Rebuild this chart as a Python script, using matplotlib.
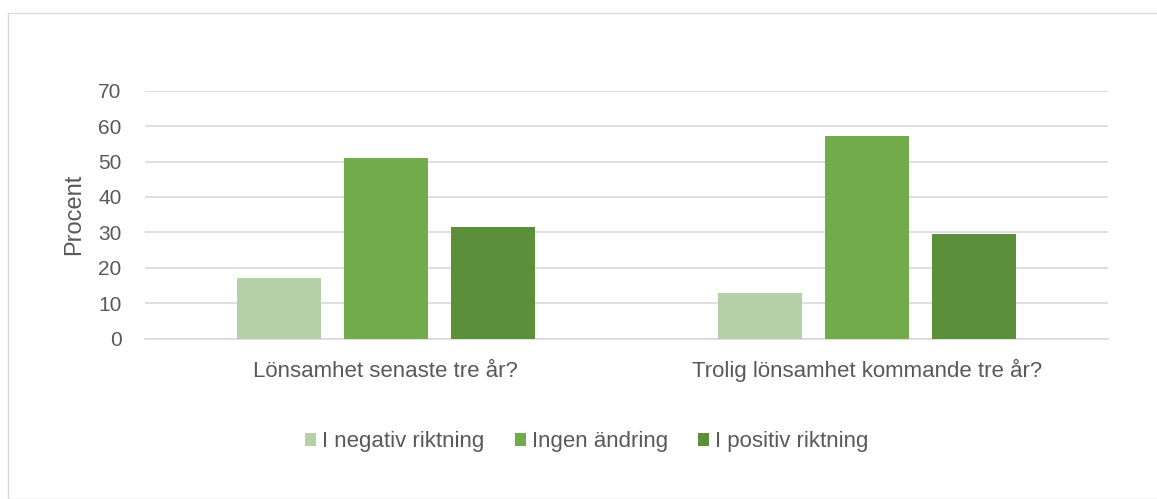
import matplotlib
matplotlib.use("Agg")
import matplotlib.pyplot as plt
import numpy as np
from matplotlib.patches import Rectangle
from matplotlib.transforms import blended_transform_factory

categories = ["Lönsamhet senaste tre år?", "Trolig lönsamhet kommande tre år?"]
series_names = ["I negativ riktning", "Ingen ändring", "I positiv riktning"]
negativ = [17.1, 13.0]
ingen = [50.9, 57.2]
positiv = [31.4, 29.5]
colors = ["#b5cfa7", "#72ac4a", "#5b8f3a"]
yticks = [0, 10, 20, 30, 40, 50, 60, 70]

plt.rcParams['font.family'] = ['Liberation Sans', 'DejaVu Sans']
txt = "#595959"

W, H = 1157, 499
fig = plt.figure(figsize=(W/100, H/100), dpi=100)
fig.patches.append(Rectangle((8/W, 0), 1.2, (H-13)/H, transform=fig.transFigure,
                             fill=False, edgecolor="#d9d9d9", linewidth=1))
ax = fig.add_axes([145/W, 1-338.7/H, (1108-145)/W, (338.7-90.7)/H])

x = np.arange(len(categories))
step = 0.222
bw = 0.174
for i, (vals, c, name) in enumerate(zip([negativ, ingen, positiv], colors, series_names)):
    ax.bar(x + (i-1)*step, vals, width=bw, color=c, label=name, zorder=3)

ax.set_xlim(-0.5, 1.5)
ax.set_ylim(0, 70)
ax.set_yticks(yticks)
ax.set_yticklabels([str(t) for t in yticks], color=txt, fontsize=15)
ax.set_xticks(x)
ax.set_xticklabels([])
ax.tick_params(axis='y', length=0, pad=17)
ax.tick_params(axis='x', length=0)
trans = blended_transform_factory(ax.transData, fig.transFigure)
for xi, cat in zip(x, categories):
    ax.text(xi, 1-377/H, cat, transform=trans, ha='center', va='baseline',
            fontsize=16, color=txt)
ax.grid(axis='y', color="#d9d9d9", linewidth=1.2, zorder=0)
for s in ["top", "right", "left"]:
    ax.spines[s].set_visible(False)
ax.spines["bottom"].set_color("#d9d9d9")
ax.spines["bottom"].set_linewidth(1.2)
ax.set_ylabel("Procent", color=txt, fontsize=17)
ax.yaxis.set_label_coords(-60/(1108-145), 0.5)

leg = fig.legend(loc="center", bbox_to_anchor=(587/W, 1-442/H), ncol=3, frameon=False,
                 fontsize=16, handlelength=0.5, handleheight=0.5, handletextpad=0.27,
                 columnspacing=1.36)
for t in leg.get_texts():
    t.set_color(txt)

fig.savefig("out.png", dpi=100)
